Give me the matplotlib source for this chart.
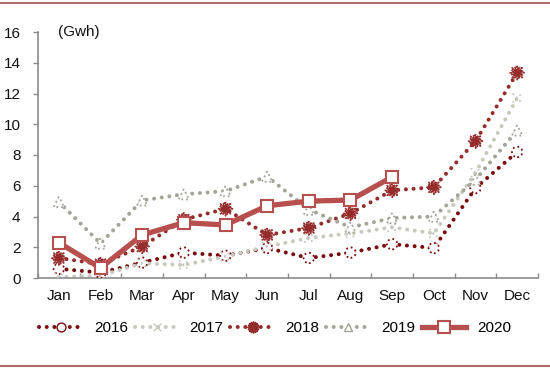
import matplotlib
matplotlib.use('Agg')
import matplotlib.pyplot as plt
from matplotlib.lines import Line2D

plt.rcParams['font.family'] = ['Liberation Sans', 'DejaVu Sans']

# 月份与各年份数据 (Gwh)
months = ['Jan', 'Feb', 'Mar', 'Apr', 'May', 'Jun', 'Jul', 'Aug', 'Sep', 'Oct', 'Nov', 'Dec']
y2016 = [0.6, 0.35, 1.0, 1.65, 1.45, 1.95, 1.3, 1.65, 2.2, 1.95, 5.85, 8.2]
y2017 = [0.05, 0.15, 0.95, 0.85, 1.4, 2.05, 2.6, 2.9, 3.3, 2.9, 6.85, 11.7]
y2018 = [1.3, 0.9, 2.05, 3.8, 4.5, 2.8, 3.25, 4.2, 5.7, 5.9, 8.9, 13.35]
y2019 = [4.95, 2.25, 5.05, 5.45, 5.65, 6.6, 4.45, 3.3, 3.9, 4.0, 6.4, 9.6]
y2020 = [2.3, 0.65, 2.8, 3.6, 3.45, 4.7, 5.0, 5.07, 6.57]

c2016 = '#7A0C0E'
c2017 = '#C9C9C0'
c2018 = '#962B2B'
c2019 = '#A4A49B'
c2020 = '#B84F4F'

fig = plt.figure(figsize=(5.5, 3.69), dpi=100)
ax = fig.add_axes([38 / 550, 1 - 278 / 369, 500 / 550, 246 / 369])

x = list(range(len(months)))
dot = (0, (0.01, 1.9))

series = [
    (y2016, c2016, 'o', 'white', 7.5),
    (y2017, c2017, 'x', c2017, 6.5),
    (y2018, c2018, (16, 1, 0), c2018, 10),
    (y2019, c2019, '^', 'white', 7.5),
]
handles = []
for vals, col, mk, fc, ms in series:
    ax.plot(x, vals, color=col, lw=2.9, linestyle=dot, dash_capstyle='round', zorder=2)
    ax.scatter(x, vals, s=ms ** 2, marker=mk, facecolors=fc, edgecolors=col,
               linewidths=1.3, linestyle=':', zorder=3)
    handles.append(Line2D([], [], color=col, lw=2.9, linestyle=dot, dash_capstyle='round',
                          marker=mk, markersize=ms * 0.85, markerfacecolor=fc,
                          markeredgecolor=col, markeredgewidth=1.0))

ax.plot(x[:len(y2020)], y2020, color=c2020, lw=3.8, marker='s', markersize=9,
        markerfacecolor='white', markeredgecolor=c2020, markeredgewidth=1.5, zorder=4)
handles.append(Line2D([], [], color=c2020, lw=3.8, marker='s', markersize=8,
                      markerfacecolor='white', markeredgecolor=c2020, markeredgewidth=1.5))

ax.set_xlim(-0.5, 11.5)
ax.set_ylim(0, 16)
ax.set_yticks(range(0, 17, 2))
ax.set_xticks(x)
ax.set_xticklabels(months)
ax.set_xticks([i - 0.5 for i in range(13)], minor=True)

for s in ['top', 'right']:
    ax.spines[s].set_visible(False)
for s in ['left', 'bottom']:
    ax.spines[s].set_color('#8C8C8C')
    ax.spines[s].set_linewidth(1.2)

ax.tick_params(axis='x', which='major', length=0, pad=8, labelsize=11, labelcolor='#111111')
ax.tick_params(axis='x', which='minor', direction='in', length=3.6, width=1.0, color='#8C8C8C')
ax.tick_params(axis='y', direction='out', length=3.6, width=1.0, color='#8C8C8C',
               pad=9, labelsize=11, labelcolor='#111111')

ax.text(-0.03, 16, '(Gwh)', ha='left', va='center', fontsize=11, color='#111111')

fig.legend(handles, ['2016', '2017', '2018', '2019', '2020'], loc='center',
           bbox_to_anchor=(0.5, 1 - 328 / 369), ncol=5, frameon=False, fontsize=11,
           handlelength=2.9, handletextpad=0.7, columnspacing=0.45)

# 上下装饰线
for yy in [1 - 2.5 / 369, 1 - 366 / 369]:
    fig.add_artist(Line2D([0, 1], [yy, yy], color='#B06A6A', lw=1.5, transform=fig.transFigure))

fig.savefig('out.png', dpi=100)
